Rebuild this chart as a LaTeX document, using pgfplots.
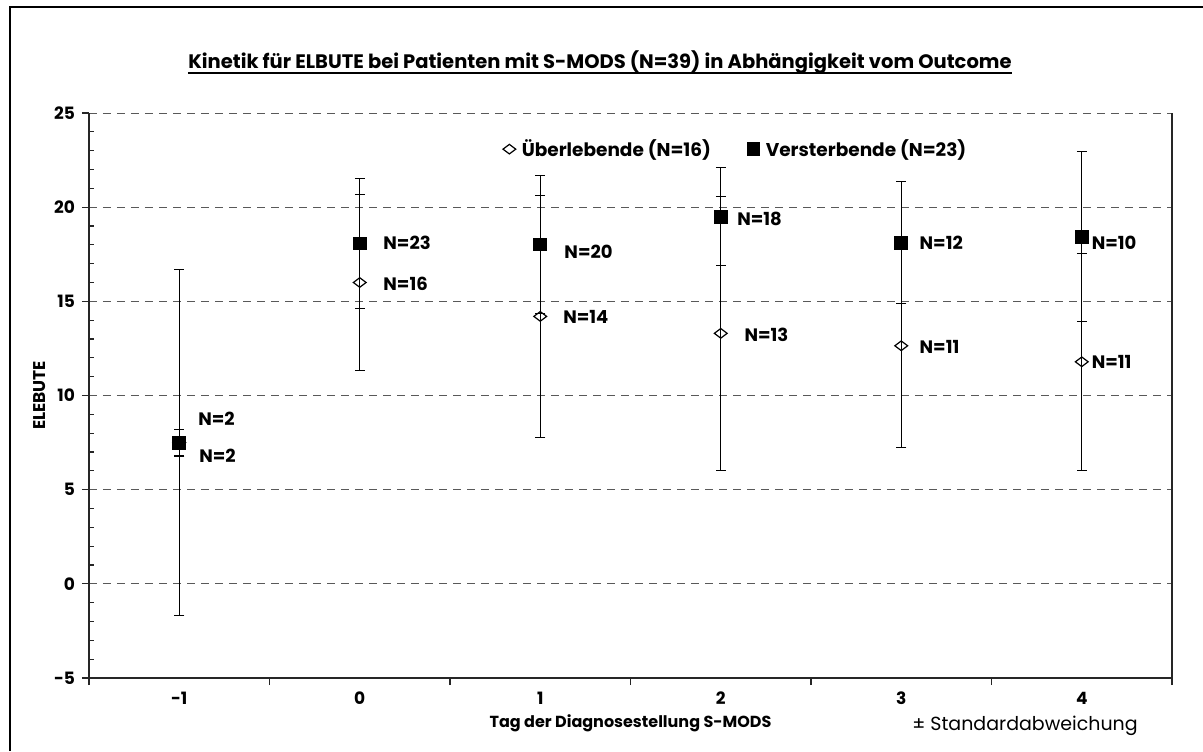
\documentclass[border=0pt]{standalone}
\usepackage{fontspec}
\setmainfont{Poppins}
\usepackage{pgfplots}
\usepackage{pgfplotstable}
\pgfplotsset{compat=1.18}
\pgfplotstableread{
x y e
-1 7.5 9.2
0 16.0 4.68
1 14.2 6.42
2 13.3 7.27
3 12.64 5.42
4 11.79 5.76
}\ueberlebende
\pgfplotstableread{
x y e
-1 7.5 0.71
0 18.08 3.45
1 18.02 3.66
2 19.5 2.6
3 18.12 3.23
4 18.44 4.5
}\versterbende
\begin{document}
\begin{tikzpicture}
\useasboundingbox (-44.5pt,-36.5pt) rectangle (557pt,339pt);
\draw[line width=0.8pt] (-39.5pt,-36.5pt) -- (-39.5pt,335.5pt) -- (557pt,335.5pt);
\begin{axis}[
  at={(0,0)}, anchor=south west, scale only axis,
  width=541.5pt, height=282.5pt,
  xmin=-1.5, xmax=4.5, ymin=-5, ymax=25,
  axis x line*=bottom, ytick pos=left,
  xtick={-1.5,-0.5,...,4.5}, x tick label as interval,
  xticklabels={-1,0,1,2,3,4},
  ytick={-5,0,...,25},
  tick align=outside, major tick length=3.5pt,
  extra y ticks={-4,-3,-2,-1,1,2,3,4,6,7,8,9,11,12,13,14,16,17,18,19,21,22,23,24},
  extra y tick labels={},
  extra y tick style={tick align=inside, major tick length=2.5pt, grid=none},
  ymajorgrids,
  grid style={gray!70!black, line width=0.5pt, dash pattern=on 4pt off 3pt},
  axis line style={line width=0.8pt, black!85},
  tick style={black!85, line width=0.6pt},
  /pgf/number format/assume math mode=true,
  tick label style={font=\bfseries\fontsize{8.5}{10}\selectfont},
  xlabel={\bfseries Tag der Diagnosestellung S-MODS},
  xlabel style={font=\fontsize{8}{10}\selectfont, yshift=2pt},
  ylabel={\bfseries ELEBUTE},
  ylabel style={font=\fontsize{8.5}{10}\selectfont},
  ylabel shift=-6pt,
  legend columns=2,
  legend style={at={(0.598,0.936)}, anchor=center, draw=none, fill=none,
    font=\bfseries\fontsize{9.25}{11}\selectfont,
    /tikz/every odd column/.append style={column sep=1pt},
    /tikz/every even column/.append style={column sep=16pt}},
  legend cell align=left,
]
\addplot[only marks, mark=diamond, mark size=3.2pt,
  mark options={rotate=90, fill=white, draw=black, line width=0.6pt},
  error bars/.cd, y dir=both, y explicit,
  error bar style={line width=0.6pt, black},
  error mark options={rotate=90, mark size=2.5pt, line width=0.6pt, black}]
  table[x=x, y=y, y error=e] {\ueberlebende};
\addlegendentry{Überlebende (N=16)}
\addplot[only marks, mark=square*, mark size=3.2pt,
  mark options={fill=black, draw=black},
  error bars/.cd, y dir=both, y explicit,
  error bar style={line width=0.6pt, black},
  error mark options={rotate=90, mark size=2.5pt, line width=0.6pt, black}]
  table[x=x, y=y, y error=e] {\versterbende};
\addlegendentry{Versterbende (N=23)}
\begin{scope}[every node/.style={anchor=west, inner sep=0pt, font=\bfseries\fontsize{9}{11}\selectfont}]
\node at (axis cs:-0.896,8.75) {N=2};
\node at (axis cs:-0.891,6.79) {N=2};
\node at (axis cs:0.129,18.10) {N=23};
\node at (axis cs:0.129,15.92) {N=16};
\node at (axis cs:1.132,17.62) {N=20};
\node at (axis cs:1.126,14.17) {N=14};
\node at (axis cs:2.09,19.37) {N=18};
\node at (axis cs:2.13,13.21) {N=13};
\node at (axis cs:3.10,18.10) {N=12};
\node at (axis cs:3.10,12.57) {N=11};
\node at (axis cs:4.054,18.10) {N=10};
\node at (axis cs:4.054,11.78) {N=11};
\end{scope}
\end{axis}
\node[inner sep=0pt, anchor=base, font=\bfseries\fontsize{9.75}{11}\selectfont] (t) at (255.5pt,304.5pt) {Kinetik für ELBUTE bei Patienten mit S-MODS (N=39) in Abhängigkeit vom Outcome};
\draw[line width=0.9pt] ([yshift=-2.2pt]t.base west) -- ([yshift=-2.2pt]t.base east);
\node[inner sep=0pt, font=\fontsize{9.5}{11}\selectfont] at (468pt,-24pt) {± Standardabweichung};
\end{tikzpicture}
\end{document}
